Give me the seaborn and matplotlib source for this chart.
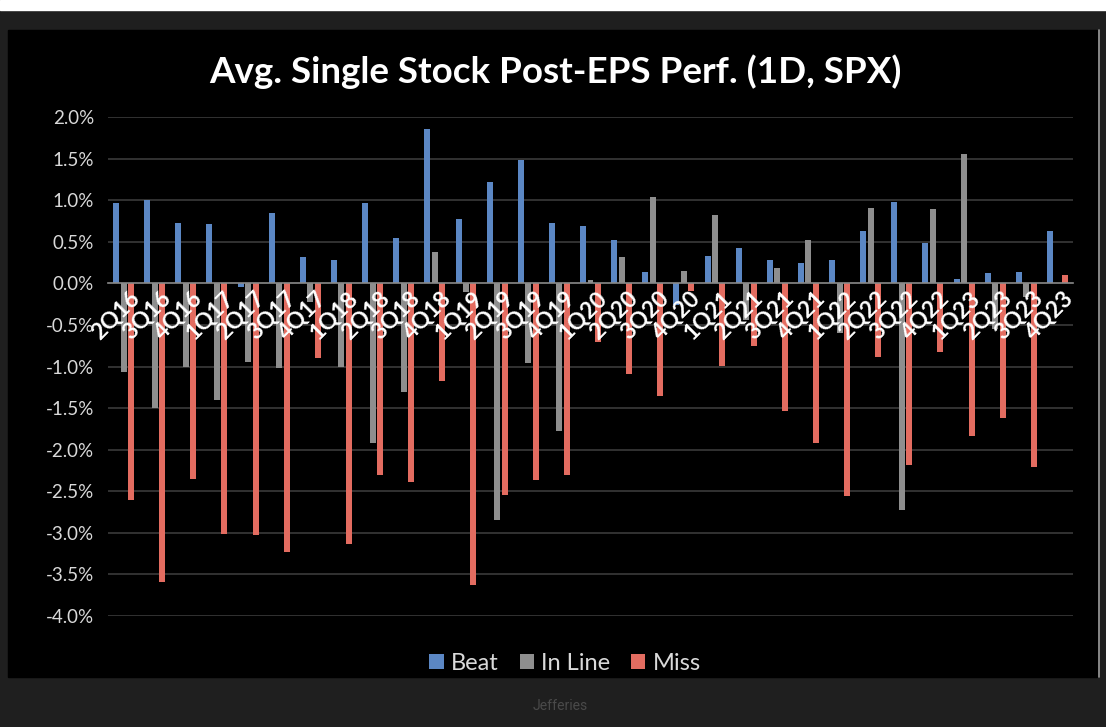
import pandas as pd
import numpy as np
import matplotlib
matplotlib.use("Agg")
import matplotlib.pyplot as plt
import seaborn as sns
from matplotlib.patches import Rectangle, Patch
from matplotlib.lines import Line2D
from matplotlib.ticker import FuncFormatter, FixedLocator
from matplotlib.transforms import ScaledTranslation

quarters = ['2Q16', '3Q16', '4Q16', '1Q17', '2Q17', '3Q17', '4Q17', '1Q18', '2Q18', '3Q18',
            '4Q18', '1Q19', '2Q19', '3Q19', '4Q19', '1Q20', '2Q20', '3Q20', '4Q20', '1Q21',
            '2Q21', '3Q21', '4Q21', '1Q22', '2Q22', '3Q22', '4Q22', '1Q23', '2Q23', '3Q23', '4Q23']
beat = [0.96, 1.00, 0.72, 0.71, -0.05, 0.84, 0.32, 0.28, 0.96, 0.55,
        1.86, 0.77, 1.22, 1.48, 0.72, 0.69, 0.52, 0.14, -0.26, 0.33,
        0.42, 0.28, 0.24, 0.28, 0.63, 0.98, 0.49, 0.05, 0.13, 0.14, 0.63]
in_line = [-1.07, -1.50, -1.00, -1.40, -0.95, -1.02, -0.22, -1.00, -1.92, -1.31,
           0.38, -0.10, -2.85, -0.96, -1.77, 0.04, 0.32, 1.04, 0.15, 0.82,
           -0.44, 0.19, 0.52, -0.60, 0.90, -2.73, 0.89, 1.55, -0.55, -0.17, 0.00]
miss = [-2.61, -3.59, -2.35, -3.01, -3.03, -3.23, -0.90, -3.14, -2.30, -2.39,
        -1.17, -3.63, -2.55, -2.36, -2.30, -0.70, -1.09, -1.35, -0.09, -0.99,
        -0.75, -1.53, -1.92, -2.56, -0.89, -2.19, -0.83, -1.83, -1.62, -2.21, 0.10]
series = ['Beat', 'In Line', 'Miss']
colores = {'Beat': '#5b87c4', 'In Line': '#8e8e8e', 'Miss': '#e36c60'}

df = pd.DataFrame({'Trimestre': quarters, 'Beat': beat, 'In Line': in_line, 'Miss': miss})
dfLargo = df.melt(id_vars='Trimestre', value_vars=series, var_name='Serie', value_name='Valor')

sns.set_style('white')
plt.rcParams['font.family'] = ['Lato', 'DejaVu Sans']

W, H = 1106, 727
fig = plt.figure(figsize=(W / 100, H / 100), dpi=100, facecolor='#1f1f1f')
fig.patches.append(Rectangle((0, 1 - 10 / H), 1, 10 / H, transform=fig.transFigure,
                             color='white', zorder=-10))
fig.patches.append(Rectangle((8 / W, (H - 677) / H), (1097 - 8) / W, (677 - 30) / H,
                             transform=fig.transFigure, color='black', zorder=-10))
fig.lines.append(Line2D([1099 / W, 1099 / W], [(H - 677) / H, 1 - 30 / H],
                        transform=fig.transFigure, color='#9a9a9a', lw=1.2, zorder=-5))

ax = fig.add_axes([108 / W, (H - 616) / H, 965 / W, 499 / H])
ax.set_facecolor('none')
ax.set_zorder(2)

yticks = np.arange(-4.0, 2.01, 0.5)
# lineas de la grilla a mano, por debajo de las barras
for yv in yticks:
    if yv != 0:
        ax.axhline(yv, color='#3a3a3a', linewidth=1.2, zorder=0.1)

sns.barplot(data=dfLargo, x='Trimestre', y='Valor', hue='Serie', hue_order=series,
            palette=colores, width=0.72, gap=0.2, ax=ax, saturation=1, linewidth=0,
            zorder=0.3)

ax.set_ylim(-4.0, 2.0)
ax.set_xlim(-0.5, len(quarters) - 0.5)
ax.set_yticks(yticks)
ax.yaxis.set_major_formatter(FuncFormatter(lambda v, p: f"{v:.1f}%"))
ax.grid(False)
ax.set_axisbelow(True)
for s in ['top', 'right', 'left']:
    ax.spines[s].set_visible(False)
ax.spines['bottom'].set_position(('data', 0))
ax.spines['bottom'].set_color('#8a8a8a')
ax.spines['bottom'].set_linewidth(1.2)
ax.spines['bottom'].set_zorder(0.4)
ax.set_xlabel('')
ax.set_ylabel('')

ax.tick_params(axis='y', length=0, pad=10, labelsize=13.5, labelcolor='#d9d9d9')
ax.tick_params(axis='x', which='major', length=0, pad=3, labelsize=16.5, labelcolor='white')
ax.xaxis.set_minor_locator(FixedLocator(np.arange(-0.5, len(quarters), 1.0)))
ax.tick_params(axis='x', which='minor', length=5, color='#8a8a8a', direction='out', width=1)
desplazamiento = ScaledTranslation(6 / 100, 0, fig.dpi_scale_trans)
for lbl in ax.get_xticklabels():
    lbl.set_rotation(45)
    lbl.set_ha('right')
    lbl.set_rotation_mode('anchor')
    lbl.set_weight('bold')
    lbl.set_transform(lbl.get_transform() + desplazamiento)

ax.get_legend().remove()
handles = [Patch(facecolor=colores[s], edgecolor='none') for s in series]
fig.legend(handles, series, loc='center', bbox_to_anchor=(565 / W, 1 - 663 / H), ncol=3,
           frameon=False, fontsize=17, labelcolor='#d9d9d9', handlelength=0.6,
           handleheight=0.6, handletextpad=0.3, columnspacing=0.9)

fig.text(555 / W, 1 - 72 / H, 'Avg. Single Stock Post-EPS Perf. (1D, SPX)', ha='center',
         va='center', fontsize=26.5, weight='bold', color='white')
fig.text(560 / W, 1 - 706 / H, 'Jefferies', ha='center', va='center', fontsize=10,
         color='#4a4a4a', family=['Roboto', 'DejaVu Sans'])

plt.savefig('out.png', dpi=100, facecolor=fig.get_facecolor())
